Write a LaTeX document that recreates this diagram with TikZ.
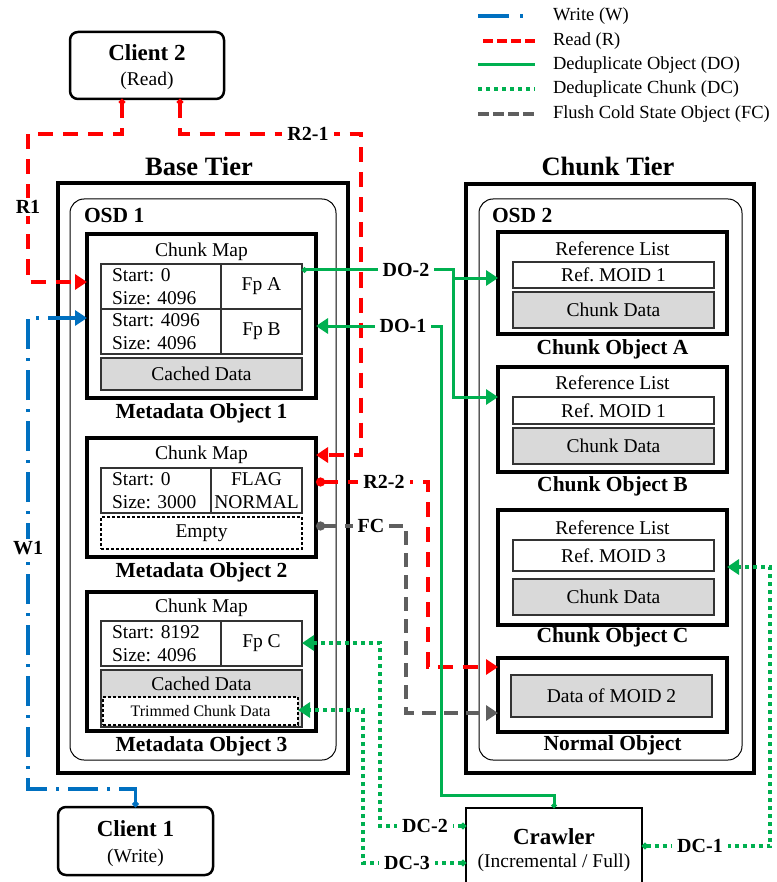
\documentclass[tikz,border=0pt]{standalone}
\usepackage{fontspec}
\setmainfont{Liberation Serif}
\usetikzlibrary{arrows.meta}
\definecolor{wblue}{HTML}{0070C0}
\definecolor{rred}{HTML}{FF0000}
\definecolor{dgreen}{HTML}{00B050}
\definecolor{fgrey}{HTML}{5F5F5F}
\definecolor{cellgrey}{HTML}{D9D9D9}
\newcommand{\bodysize}{\fontsize{19.5}{22.5}\selectfont}
\newcommand{\legsize}{\fontsize{18.5}{22}\selectfont}
\newcommand{\smallsize}{\fontsize{16}{19}\selectfont}
\newcommand{\objsize}{\fontsize{21.5}{25}\selectfont\bfseries}
\newcommand{\clientsize}{\fontsize{23}{27}\selectfont\bfseries}
\newcommand{\tiersize}{\fontsize{26.5}{30}\selectfont\bfseries}
\newcommand{\lblsize}{\fontsize{20}{24}\selectfont\bfseries}
\frenchspacing

\begin{document}
\begin{tikzpicture}[x=1pt,y=-1pt,
    every node/.style={font=\bodysize,inner sep=0pt,outer sep=0pt},
    >={Triangle[length=12pt,width=15pt]},
    tierbox/.style={draw,line width=3.2pt},
    osdbox/.style={draw,line width=1pt,rounded corners=14pt},
    objbox/.style={draw,line width=3.5pt},
    clientbox/.style={draw,line width=2.5pt,rounded corners=8pt},
    cellbox/.style={draw=black!80,line width=1.4pt},
    cellL/.style={cellbox,align=left,inner xsep=11pt,text width=98pt,minimum height=45pt},
    cellR/.style={cellbox,align=center,minimum width=81pt,minimum height=45pt},
    greybox/.style={cellbox,fill=cellgrey},
    trimbox/.style={draw=black,line width=1.2pt,dash pattern=on 3pt off 2pt},
    tiertitle/.style={font=\tiersize},
    objtitle/.style={font=\objsize},
    lbl/.style={font=\lblsize,fill=white,inner xsep=5pt,inner ysep=2pt},
    legtxt/.style={font=\legsize,anchor=west},
    wline/.style={wblue,line width=3.2pt,dash pattern=on 30pt off 9pt on 3pt off 9pt},
    rline/.style={rred,line width=3.5pt,dash pattern=on 15pt off 10pt},
    doline/.style={dgreen,line width=3pt},
    dcline/.style={dgreen,line width=3.5pt,dash pattern=on 4pt off 4pt},
    fcline/.style={fgrey,line width=3.5pt,dash pattern=on 14pt off 8pt}]
    \useasboundingbox(0,0)rectangle(776,882);
    \clip(0,0)rectangle(776,882);
    \node[legtxt](legw)at(553,16){Write (W)};
    \node[legtxt](legr)at(553,41){Read (R)};
    \node[legtxt](legdo)at(553,65){Deduplicate Object (DO)};
    \node[legtxt](legdc)at(553,89){Deduplicate Chunk (DC)};
    \node[legtxt](legfc)at(553,114){Flush Cold State Object (FC)};
    \draw[wline,dash pattern=on 31pt off 11pt on 3pt off 11pt]([xshift=-75]legw.west)--([xshift=-29]legw.west);
    \draw[rline,dash pattern=on 10pt off 4pt]([xshift=-70]legr.west)--([xshift=-18]legr.west);
    \draw[doline]([xshift=-75]legdo.west)--([xshift=-18]legdo.west);
    \draw[dcline]([xshift=-75]legdc.west)--([xshift=-18]legdc.west);
    \draw[fcline,dash pattern=on 11pt off 4pt]([xshift=-75]legfc.west)--([xshift=-18]legfc.west);
    \node[clientbox,minimum width=154pt,minimum height=67pt](client2)at(147,65.5){};
    \node[font=\clientsize](c2name)at(147,53){Client 2};
    \node(c2role)at(147,81){(Read)};
    \node[clientbox,minimum width=155pt,minimum height=68pt](client1)at(135.5,841){};
    \node[font=\clientsize](c1name)at(135.5,829){Client 1};
    \node(c1role)at(135.5,858){(Write)};
    \node[tiertitle](basetitle)at(199,166){Base Tier};
    \node[tierbox,minimum width=290pt,minimum height=590pt](base)at(203,478){};
    \node[osdbox,minimum width=266pt,minimum height=561pt](osd1)at(203,479.5){};
    \node[objtitle,anchor=west](osd1name)at(84,215){OSD 1};
    \node[objbox,minimum width=229pt,minimum height=164pt](meta1)at(201.5,316){};
    \node(m1map)at(201.5,252){Chunk Map};
    \node[cellL](m1s1)at(161,286.5){Start: 0\\Size: 4096};
    \node[cellR](m1fa)at(261.5,286.5){Fp A};
    \node[cellL](m1s2)at(161,331.5){Start: 4096\\Size: 4096};
    \node[cellR](m1fb)at(261.5,331.5){Fp B};
    \node[greybox,minimum width=201pt,minimum height=32pt](m1cache)at(201.5,374){Cached Data};
    \node[objtitle](meta1name)at(201.5,413){Metadata Object 1};
    \node[objbox,minimum width=229pt,minimum height=119pt](meta2)at(201.5,497.5){};
    \node(m2map)at(201.5,455){Chunk Map};
    \node[cellL,text width=88pt](m2s1)at(156,490.5){Start: 0\\Size: 3000};
    \node[cellR,minimum width=91pt](m2flag)at(256.5,490.5){FLAG\\NORMAL};
    \node[trimbox,minimum width=201pt,minimum height=32pt](m2empty)at(201.5,533){Empty};
    \node[objtitle](meta2name)at(201.5,572){Metadata Object 2};
    \node[objbox,minimum width=229pt,minimum height=139pt](meta3)at(201.5,661.5){};
    \node(m3map)at(201.5,608){Chunk Map};
    \node[cellL](m3s1)at(161,643.5){Start: 8192\\Size: 4096};
    \node[cellR](m3fc)at(261.5,643.5){Fp C};
    \node[greybox,minimum width=201pt,minimum height=57pt](m3cache)at(201.5,698.5){};
    \node(m3cachetxt)at(201.5,684){Cached Data};
    \node[trimbox,fill=white,font=\smallsize,minimum width=195pt,minimum height=28pt](m3trim)at(200.5,711){Trimmed Chunk Data};
    \node[objtitle](meta3name)at(201.5,746){Metadata Object 3};
    \node[tiertitle](chunktitle)at(608,166){Chunk Tier};
    \node[tierbox,minimum width=288pt,minimum height=589pt](chunk)at(610,478.5){};
    \node[osdbox,minimum width=263pt,minimum height=561pt](osd2)at(610.5,479.5){};
    \node[objtitle,anchor=west](osd2name)at(492,215){OSD 2};
    \node[objbox,minimum width=229pt,minimum height=102pt](objA)at(612.5,283){};
    \node(refltA)at(612.5,249){Reference List};
    \node[cellbox,minimum width=201pt,minimum height=26pt](refA)at(613.5,275){Ref. MOID 1};
    \node[greybox,minimum width=201pt,minimum height=36pt](dataA)at(613.5,310){Chunk Data};
    \node[objtitle](objAname)at(612.5,349){Chunk Object A};
    \node[objbox,minimum width=229pt,minimum height=105pt](objB)at(612.5,419.5){};
    \node(refltB)at(612.5,383){Reference List};
    \node[cellbox,minimum width=201pt,minimum height=27pt](refB)at(613.5,410.5){Ref. MOID 1};
    \node[greybox,minimum width=201pt,minimum height=36pt](dataB)at(613.5,446){Chunk Data};
    \node[objtitle](objBname)at(612.5,486){Chunk Object B};
    \node[objbox,minimum width=229pt,minimum height=115pt](objC)at(612.5,567.5){};
    \node(refltC)at(612.5,528){Reference List};
    \node[cellbox,minimum width=201pt,minimum height=31pt](refC)at(613.5,555.5){Ref. MOID 3};
    \node[greybox,minimum width=201pt,minimum height=36pt](dataC)at(613.5,597){Chunk Data};
    \node[objtitle](objCname)at(612.5,637){Chunk Object C};
    \node[objbox,minimum width=229pt,minimum height=74pt](normal)at(612.5,695){};
    \node[greybox,minimum width=201pt,minimum height=42pt](ndata)at(611.5,696){Data of MOID 2};
    \node[objtitle](normalname)at(612.5,745){Normal Object};
    \node[draw,line width=2.8pt,minimum width=176pt,minimum height=92pt](crawler)at(554,854){};
    \node[font=\clientsize](crawlname)at(554,837){Crawler};
    \node(crawlmode)at(554,863){(Incremental / Full)};
    \coordinate(r1c)at(28,282);
    \coordinate(r21c)at(361,455);
    \coordinate(r22a)at(428,482);
    \coordinate(r22b)at(428,667);
    \coordinate(fca)at(406,526);
    \coordinate(fcb)at(406,713);
    \coordinate(do2a)at(453,270);
    \coordinate(do2b)at(453,397);
    \coordinate(do2c)at(453,278);
    \coordinate(do1a)at(441,326);
    \coordinate(do1b)at(441,795);
    \coordinate(dc1a)at(770,846);
    \coordinate(dc1b)at(770,567);
    \coordinate(dc2a)at(380,826);
    \coordinate(dc2b)at(380,643);
    \coordinate(dc3a)at(363,863);
    \coordinate(dc3b)at(363,710);
    \coordinate(w1a)at(28,789);
    \coordinate(w1b)at(28,318);
    \draw[rline,{Circle[length=6pt]}->]([xshift=-25]client2.south)--++(0,35)-|(r1c)--(r1c-|meta1.west);
    \draw[rline,{Circle[length=6pt]}->]([xshift=33]client2.south)--++(0,35)-|(r21c)--(r21c-|meta2.east);
    \draw[rline,{Circle[length=9pt]}->](r22a-|meta2.east)--(r22a)--(r22b)--(r22b-|normal.west);
    \draw[fcline,{Circle[length=9pt]}->](fca-|meta2.east)--(fca)--(fcb)--(fcb-|normal.west);
    \draw[doline,{Circle[length=5pt]}->](do2a-|m1fa.east)--(do2a)--(do2b)--(do2b-|objB.west);
    \draw[doline,->](do2c)--(do2c-|objA.west);
    \draw[doline,{Circle[length=5pt]}->](crawler.north)--(crawler.north|-do1b)--(do1b)--(do1a)--(do1a-|meta1.east);
    \draw[dcline,{Circle[length=6pt]}->](dc1a-|crawler.east)--(dc1a)--(dc1b)--(dc1b-|objC.east);
    \draw[dcline,{Circle[length=6pt]}->](dc2a-|crawler.west)--(dc2a)--(dc2b)--(dc2b-|m3fc.east);
    \draw[dcline,{Circle[length=6pt]}->](dc3a-|crawler.west)--(dc3a)--(dc3b)--(dc3b-|m3trim.east);
    \draw[wline,{Circle[length=6pt]}->](client1.north)--(client1.north|-w1a)--(w1a)--(w1b)--(w1b-|meta1.west);
    \node[lbl](r1lbl)at(28,207){R1};
    \node[lbl](r21lbl)at(308,134){R2-1};
    \node[lbl](r22lbl)at(384,482){R2-2};
    \node[lbl](fclbl)at(371,526){FC};
    \node[lbl](do2lbl)at(406,270){DO-2};
    \node[lbl](do1lbl)at(403,326){DO-1};
    \node[lbl](dc1lbl)at(700,846){DC-1};
    \node[lbl](dc2lbl)at(425,826){DC-2};
    \node[lbl](dc3lbl)at(407,863){DC-3};
    \node[lbl](w1lbl)at(28,548){W1};
\end{tikzpicture}
\end{document}
